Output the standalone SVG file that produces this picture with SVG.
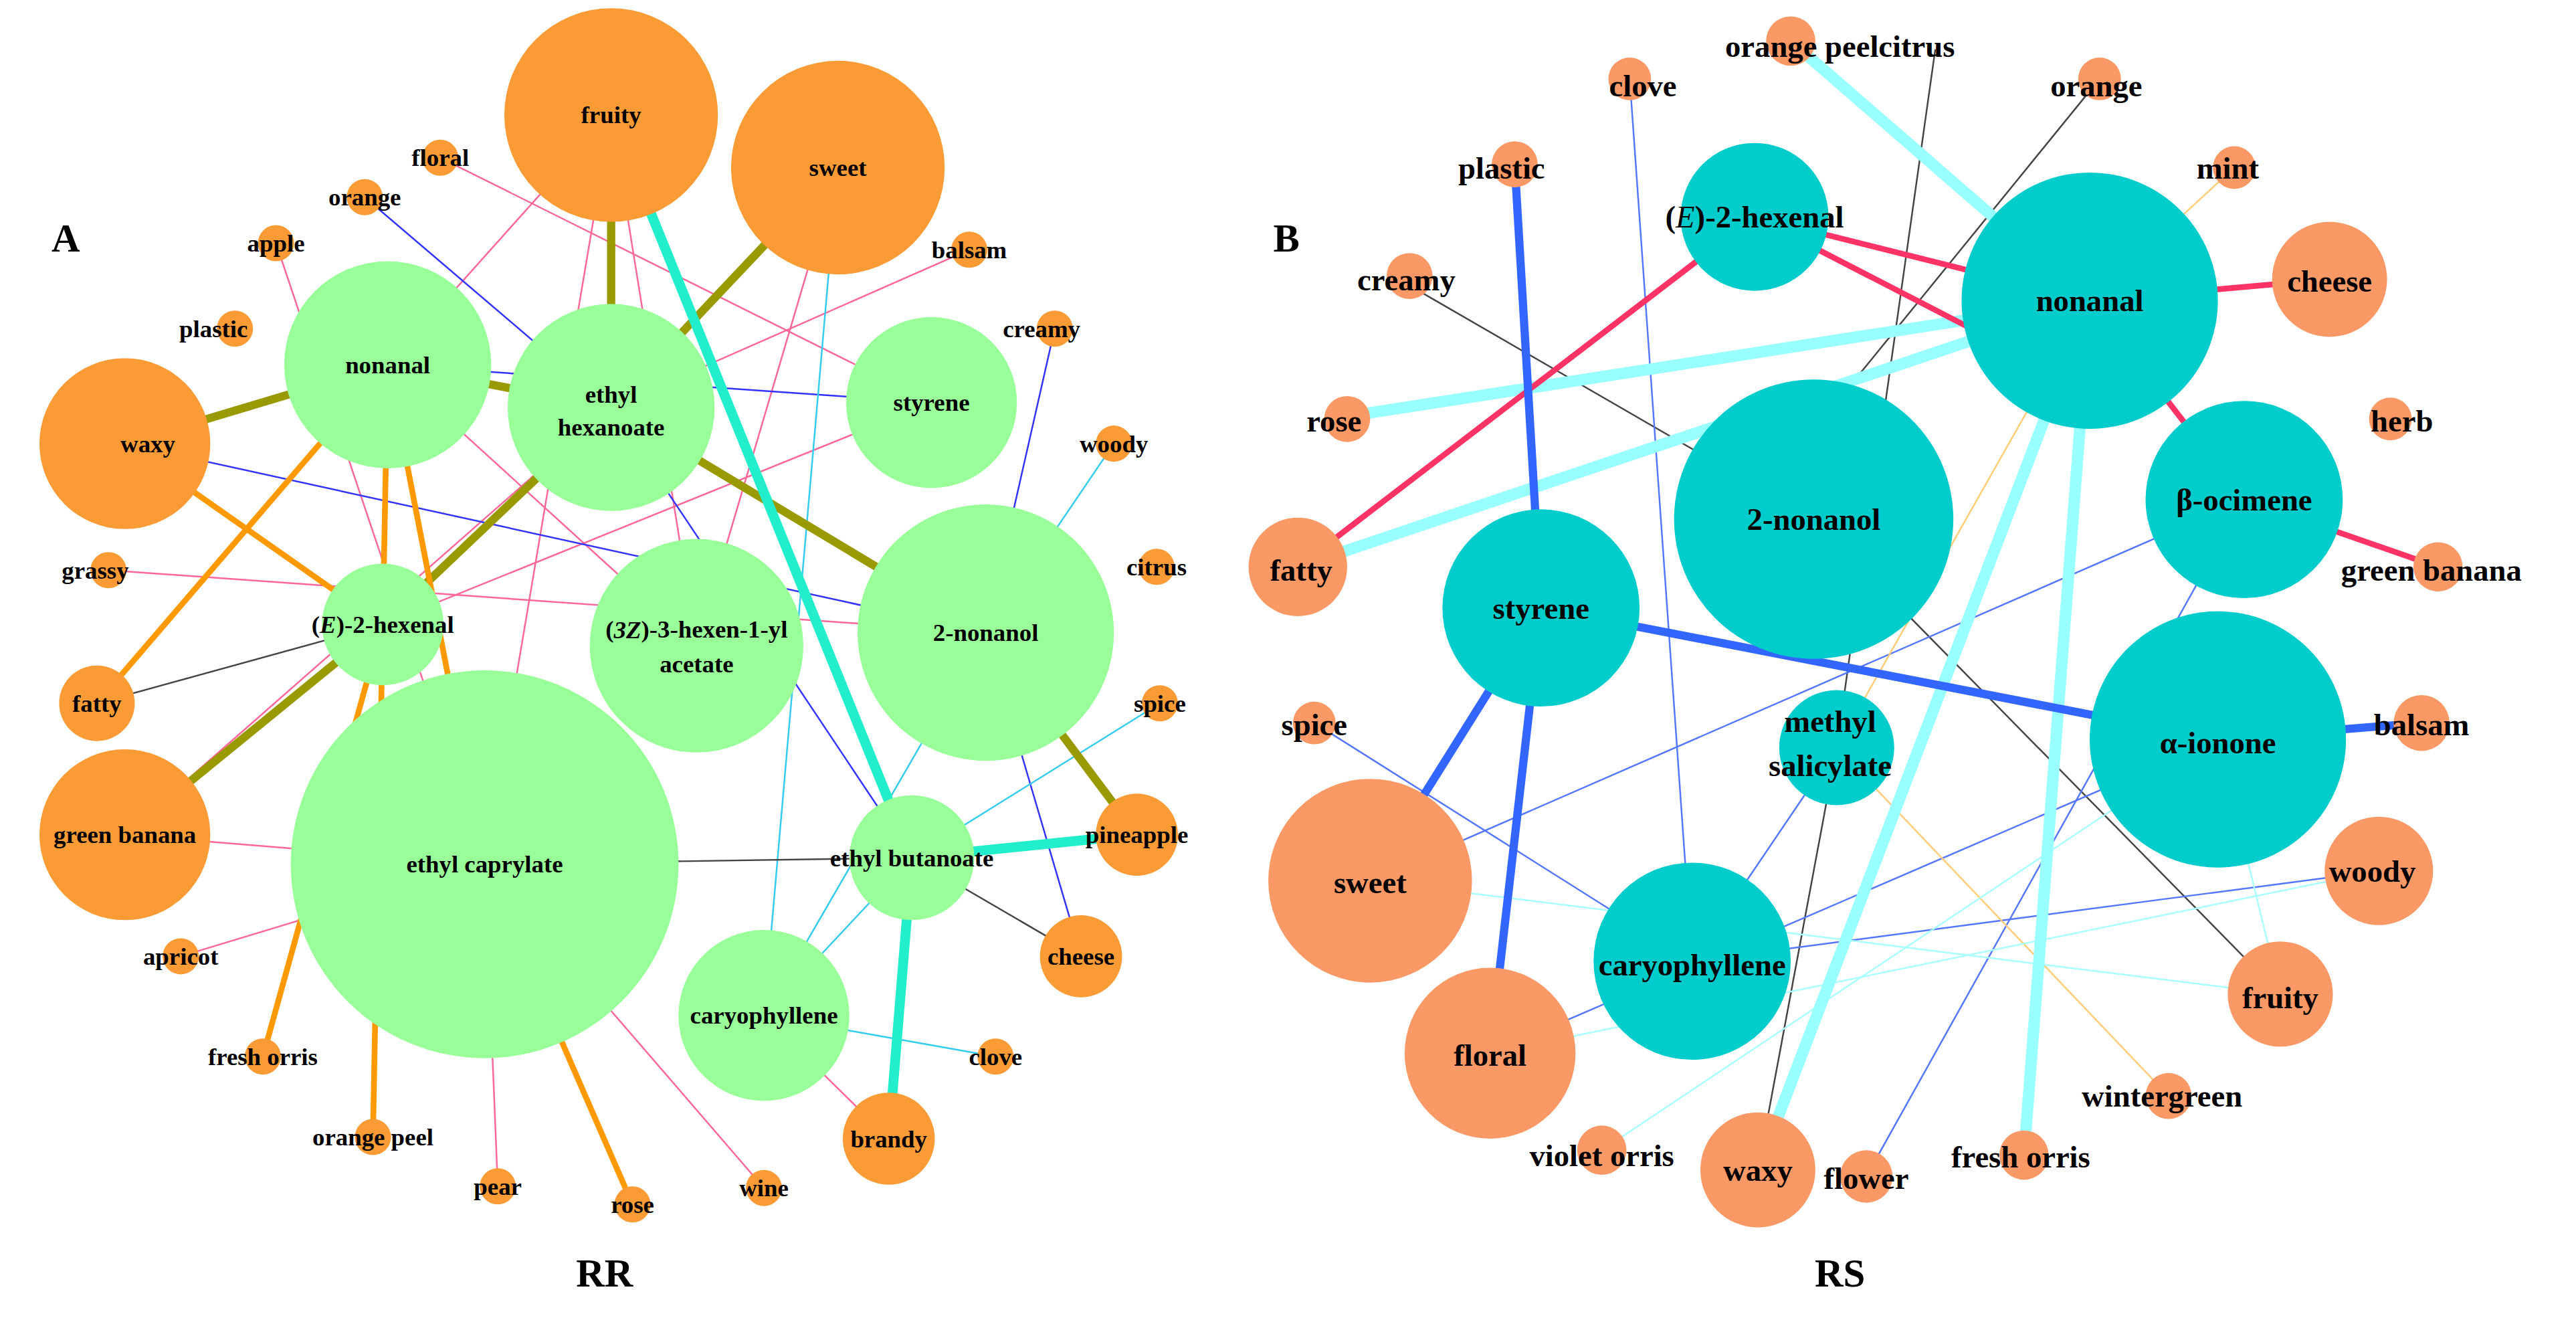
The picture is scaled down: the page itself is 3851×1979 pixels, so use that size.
<svg xmlns="http://www.w3.org/2000/svg" width="3851" height="1979" viewBox="0 0 3851 1979">
<style>
text{font-family:"Liberation Serif","Times New Roman",serif;font-weight:bold;fill:#000;text-anchor:middle;dominant-baseline:central}
.a{font-size:15px}.b{font-size:19px}.big{font-size:24px}
.og{fill:#FA9B35}.gr{fill:#99FF99}.cy{fill:#00CCCC}.sa{fill:#FA9966}
line{fill:none}
.ol{stroke:#999900;stroke-width:5}.tq{stroke:#22EECC;stroke-width:6}.or{stroke:#FF9900;stroke-width:3.5}
.pk{stroke:#FF6699;stroke-width:1}.bl{stroke:#3333FF;stroke-width:1}.lc{stroke:#33CCEE;stroke-width:1}.bk{stroke:#444;stroke-width:1}
.lcb{stroke:#99FFFF;stroke-width:7}.rd{stroke:#FF3366;stroke-width:3.5}.bb{stroke:#3366FF;stroke-width:5}
.tb{stroke:#5577FF;stroke-width:1}.ty{stroke:#FFCC77;stroke-width:1}.tc{stroke:#AAFFFF;stroke-width:1}
</style>
<rect width="3851" height="1979" fill="#fff"/>
<g transform="scale(2.456)">
<g id="connectors">
<line class="pk" x1="268" y1="96" x2="567" y2="245"/>
<line class="pk" x1="372" y1="70" x2="236" y2="222"/>
<line class="pk" x1="66" y1="347" x2="600" y2="385"/>
<line class="pk" x1="76" y1="508" x2="295" y2="526"/>
<line class="pk" x1="110" y1="582" x2="295" y2="526"/>
<line class="pk" x1="303" y1="722" x2="295" y2="526"/>
<line class="pk" x1="465" y1="723" x2="295" y2="526"/>
<line class="pk" x1="541" y1="693" x2="465" y2="618"/>
<line class="pk" x1="372" y1="70" x2="424" y2="393"/>
<line class="pk" x1="510" y1="102" x2="424" y2="393"/>
<line class="pk" x1="590" y1="152" x2="372" y2="248"/>
<line class="pk" x1="236" y1="222" x2="424" y2="393"/>
<line class="pk" x1="76" y1="508" x2="372" y2="248"/>
<line class="pk" x1="168" y1="148" x2="295" y2="526"/>
<line class="pk" x1="567" y1="245" x2="233" y2="380"/>
<line class="pk" x1="372" y1="70" x2="295" y2="526"/>
<line class="bl" x1="222" y1="120" x2="372" y2="248"/>
<line class="bl" x1="372" y1="70" x2="555" y2="522"/>
<line class="bl" x1="76" y1="270" x2="600" y2="385"/>
<line class="bl" x1="642" y1="200" x2="600" y2="385"/>
<line class="bl" x1="658" y1="582" x2="600" y2="385"/>
<line class="bl" x1="372" y1="248" x2="555" y2="522"/>
<line class="bl" x1="236" y1="222" x2="567" y2="245"/>
<line class="lc" x1="678" y1="270" x2="600" y2="385"/>
<line class="lc" x1="465" y1="618" x2="555" y2="522"/>
<line class="lc" x1="606" y1="643" x2="465" y2="618"/>
<line class="lc" x1="706" y1="428" x2="555" y2="522"/>
<line class="lc" x1="510" y1="102" x2="465" y2="618"/>
<line class="lc" x1="600" y1="385" x2="465" y2="618"/>
<line class="bk" x1="59" y1="428" x2="233" y2="380"/>
<line class="bk" x1="295" y1="526" x2="555" y2="522"/>
<line class="bk" x1="658" y1="582" x2="555" y2="522"/>
<line class="ol" x1="372" y1="70" x2="372" y2="248"/>
<line class="ol" x1="510" y1="102" x2="372" y2="248"/>
<line class="ol" x1="76" y1="270" x2="236" y2="222"/>
<line class="ol" x1="236" y1="222" x2="372" y2="248"/>
<line class="ol" x1="372" y1="248" x2="233" y2="380"/>
<line class="ol" x1="372" y1="248" x2="600" y2="385"/>
<line class="ol" x1="233" y1="380" x2="76" y2="508"/>
<line class="ol" x1="600" y1="385" x2="692" y2="508"/>
<line class="or" x1="236" y1="222" x2="59" y2="428"/>
<line class="or" x1="76" y1="270" x2="233" y2="380"/>
<line class="or" x1="236" y1="222" x2="233" y2="380"/>
<line class="or" x1="236" y1="222" x2="295" y2="526"/>
<line class="or" x1="233" y1="380" x2="160" y2="643"/>
<line class="or" x1="233" y1="380" x2="227" y2="692"/>
<line class="or" x1="295" y1="526" x2="385" y2="733"/>
<line class="tq" x1="372" y1="70" x2="555" y2="522"/>
<line class="tq" x1="555" y1="522" x2="692" y2="508"/>
<line class="tq" x1="555" y1="522" x2="541" y2="693"/>
<!-- B -->
<line class="bk" x1="1278" y1="48" x2="1130" y2="230"/>
<line class="bk" x1="848" y1="168" x2="1104" y2="316"/>
<line class="bk" x1="1178" y1="30" x2="1118" y2="455"/>
<line class="bk" x1="1104" y1="316" x2="1388" y2="605"/>
<line class="bk" x1="1070" y1="712" x2="1118" y2="455"/>
<line class="bk" x1="1418" y1="170" x2="1272" y2="183"/>
<line class="tb" x1="992" y1="48" x2="1030" y2="585"/>
<line class="tb" x1="834" y1="536" x2="1366" y2="304"/>
<line class="tb" x1="800" y1="440" x2="1030" y2="585"/>
<line class="tb" x1="1030" y1="585" x2="1448" y2="530"/>
<line class="tb" x1="1030" y1="585" x2="1118" y2="455"/>
<line class="tb" x1="907" y1="641" x2="1350" y2="450"/>
<line class="tb" x1="1136" y1="716" x2="1366" y2="304"/>
<line class="ty" x1="1360" y1="102" x2="1272" y2="183"/>
<line class="ty" x1="1118" y1="455" x2="1320" y2="667"/>
<line class="ty" x1="1118" y1="455" x2="1272" y2="183"/>
<line class="tc" x1="975" y1="700" x2="1350" y2="450"/>
<line class="tc" x1="907" y1="641" x2="1448" y2="530"/>
<line class="tc" x1="834" y1="536" x2="1388" y2="605"/>
<line class="tc" x1="1350" y1="450" x2="1388" y2="605"/>
<line class="lcb" x1="1090" y1="25" x2="1272" y2="183"/>
<line class="lcb" x1="810" y1="255" x2="1272" y2="183"/>
<line class="lcb" x1="790" y1="345" x2="1272" y2="183"/>
<line class="lcb" x1="1272" y1="183" x2="1070" y2="712"/>
<line class="lcb" x1="1272" y1="183" x2="1232" y2="703"/>
<line class="rd" x1="790" y1="345" x2="1068" y2="132"/>
<line class="rd" x1="1068" y1="132" x2="1272" y2="183"/>
<line class="rd" x1="1068" y1="132" x2="1200" y2="200"/>
<line class="rd" x1="1272" y1="183" x2="1418" y2="170"/>
<line class="rd" x1="1366" y1="304" x2="1272" y2="183"/>
<line class="rd" x1="1366" y1="304" x2="1484" y2="345"/>
<line class="bb" x1="922" y1="100" x2="938" y2="370"/>
<line class="bb" x1="938" y1="370" x2="834" y2="536"/>
<line class="bb" x1="938" y1="370" x2="907" y2="641"/>
<line class="bb" x1="938" y1="370" x2="1350" y2="450"/>
<line class="bb" x1="1350" y1="450" x2="1474" y2="440"/>
</g>
<g id="A-nodes">
<g id="a-fruity"><circle class="og" cx="372" cy="70" r="65"/><text class="a" x="372" y="70">fruity</text></g>
<g id="a-sweet"><circle class="og" cx="510" cy="102" r="65"/><text class="a" x="510" y="102">sweet</text></g>
<g id="a-floral"><circle class="og" cx="268" cy="96" r="11"/><text class="a" x="268" y="96">floral</text></g>
<g id="a-orange"><circle class="og" cx="222" cy="120" r="11"/><text class="a" x="222" y="120">orange</text></g>
<g id="a-apple"><circle class="og" cx="168" cy="148" r="11"/><text class="a" x="168" y="148">apple</text></g>
<g id="a-balsam"><circle class="og" cx="590" cy="152" r="11"/><text class="a" x="590" y="152">balsam</text></g>
<g id="a-plastic"><circle class="og" cx="143" cy="200" r="11"/><text class="a" x="130" y="200">plastic</text></g>
<g id="a-creamy"><circle class="og" cx="642" cy="200" r="11"/><text class="a" x="634" y="200">creamy</text></g>
<g id="a-waxy"><circle class="og" cx="76" cy="270" r="52"/><text class="a" x="90" y="270">waxy</text></g>
<g id="a-woody"><circle class="og" cx="678" cy="270" r="11"/><text class="a" x="678" y="270">woody</text></g>
<g id="a-grassy"><circle class="og" cx="66" cy="347" r="11"/><text class="a" x="58" y="347">grassy</text></g>
<g id="a-citrus"><circle class="og" cx="704" cy="345" r="11"/><text class="a" x="704" y="345">citrus</text></g>
<g id="a-fatty"><circle class="og" cx="59" cy="428" r="23"/><text class="a" x="59" y="428">fatty</text></g>
<g id="a-spice"><circle class="og" cx="706" cy="428" r="11"/><text class="a" x="706" y="428">spice</text></g>
<g id="a-greenbanana"><circle class="og" cx="76" cy="508" r="52"/><text class="a" x="76" y="508">green banana</text></g>
<g id="a-pineapple"><circle class="og" cx="692" cy="508" r="25"/><text class="a" x="692" y="508">pineapple</text></g>
<g id="a-apricot"><circle class="og" cx="110" cy="582" r="11"/><text class="a" x="110" y="582">apricot</text></g>
<g id="a-cheese"><circle class="og" cx="658" cy="582" r="25"/><text class="a" x="658" y="582">cheese</text></g>
<g id="a-clove"><circle class="og" cx="606" cy="643" r="11"/><text class="a" x="606" y="643">clove</text></g>
<g id="a-freshorris"><circle class="og" cx="160" cy="643" r="11"/><text class="a" x="160" y="643">fresh orris</text></g>
<g id="a-brandy"><circle class="og" cx="541" cy="693" r="28"/><text class="a" x="541" y="693">brandy</text></g>
<g id="a-orangepeel"><circle class="og" cx="227" cy="692" r="11"/><text class="a" x="227" y="692">orange peel</text></g>
<g id="a-pear"><circle class="og" cx="303" cy="722" r="11"/><text class="a" x="303" y="722">pear</text></g>
<g id="a-rose"><circle class="og" cx="385" cy="733" r="11"/><text class="a" x="385" y="733">rose</text></g>
<g id="a-wine"><circle class="og" cx="465" cy="723" r="11"/><text class="a" x="465" y="723">wine</text></g>
<g id="a-nonanal"><circle class="gr" cx="236" cy="222" r="63"/><text class="a" x="236" y="222">nonanal</text></g>
<g id="a-ethylhexanoate"><circle class="gr" cx="372" cy="248" r="63"/><text class="a" x="372" y="240">ethyl</text><text class="a" x="372" y="260">hexanoate</text></g>
<g id="a-styrene"><circle class="gr" cx="567" cy="245" r="52"/><text class="a" x="567" y="245">styrene</text></g>
<g id="a-2nonanol"><circle class="gr" cx="600" cy="385" r="78"/><text class="a" x="600" y="385">2-nonanol</text></g>
<g id="a-e2hexenal"><circle class="gr" cx="233" cy="380" r="37"/><text class="a" x="233" y="380">(<tspan font-style="italic">E</tspan>)-2-hexenal</text></g>
<g id="a-hexenylacetate"><circle class="gr" cx="424" cy="393" r="65"/><text class="a" x="424" y="383">(<tspan font-style="italic">3Z</tspan>)-3-hexen-1-yl</text><text class="a" x="424" y="404">acetate</text></g>
<g id="a-ethylcaprylate"><circle class="gr" cx="295" cy="526" r="118"/><text class="a" x="295" y="526">ethyl caprylate</text></g>
<g id="a-ethylbutanoate"><circle class="gr" cx="555" cy="522" r="38"/><text class="a" x="555" y="522">ethyl butanoate</text></g>
<g id="a-caryophyllene"><circle class="gr" cx="465" cy="618" r="52"/><text class="a" x="465" y="618">caryophyllene</text></g>
</g>
<g id="B-nodes">
<g id="b-opc"><circle class="sa" cx="1090" cy="25" r="15"/><text class="b" x="1120" y="28">orange peelcitrus</text></g>
<g id="b-clove"><circle class="sa" cx="992" cy="48" r="13"/><text class="b" x="1000" y="52">clove</text></g>
<g id="b-orange"><circle class="sa" cx="1278" cy="48" r="13"/><text class="b" x="1276" y="52">orange</text></g>
<g id="b-plastic"><circle class="sa" cx="922" cy="100" r="14"/><text class="b" x="914" y="102">plastic</text></g>
<g id="b-mint"><circle class="sa" cx="1360" cy="102" r="13"/><text class="b" x="1356" y="102">mint</text></g>
<g id="b-creamy"><circle class="sa" cx="858" cy="168" r="14"/><text class="b" x="856" y="170">creamy</text></g>
<g id="b-rose"><circle class="sa" cx="820" cy="255" r="14"/><text class="b" x="812" y="256">rose</text></g>
<g id="b-herb"><circle class="sa" cx="1455" cy="255" r="13"/><text class="b" x="1462" y="256">herb</text></g>
<g id="b-cheese"><circle class="sa" cx="1418" cy="170" r="35"/><text class="b" x="1418" y="171">cheese</text></g>
<g id="b-fatty"><circle class="sa" cx="790" cy="345" r="30"/><text class="b" x="792" y="347">fatty</text></g>
<g id="b-gb"><circle class="sa" cx="1484" cy="345" r="15"/><text class="b" x="1480" y="347">green banana</text></g>
<g id="b-spice"><circle class="sa" cx="800" cy="440" r="13"/><text class="b" x="800" y="441">spice</text></g>
<g id="b-balsam"><circle class="sa" cx="1474" cy="440" r="17"/><text class="b" x="1474" y="441">balsam</text></g>
<g id="b-sweet"><circle class="sa" cx="834" cy="536" r="62"/><text class="b" x="834" y="537">sweet</text></g>
<g id="b-woody"><circle class="sa" cx="1448" cy="530" r="33"/><text class="b" x="1444" y="530">woody</text></g>
<g id="b-fruity"><circle class="sa" cx="1388" cy="605" r="32"/><text class="b" x="1388" y="607">fruity</text></g>
<g id="b-floral"><circle class="sa" cx="907" cy="641" r="52"/><text class="b" x="907" y="642">floral</text></g>
<g id="b-wintergreen"><circle class="sa" cx="1320" cy="667" r="14"/><text class="b" x="1316" y="667">wintergreen</text></g>
<g id="b-violetorris"><circle class="sa" cx="975" cy="700" r="15"/><text class="b" x="975" y="703">violet orris</text></g>
<g id="b-waxy"><circle class="sa" cx="1070" cy="712" r="35"/><text class="b" x="1070" y="712">waxy</text></g>
<g id="b-flower"><circle class="sa" cx="1136" cy="716" r="16"/><text class="b" x="1136" y="717">flower</text></g>
<g id="b-freshorris"><circle class="sa" cx="1232" cy="703" r="15"/><text class="b" x="1230" y="704">fresh orris</text></g>
<g id="b-e2hexenal"><circle class="cy" cx="1068" cy="132" r="45"/><text class="b" x="1068" y="132">(<tspan font-style="italic" font-weight="normal">E</tspan>)-2-hexenal</text></g>
<g id="b-nonanal"><circle class="cy" cx="1272" cy="183" r="78"/><text class="b" x="1272" y="183">nonanal</text></g>
<g id="b-2nonanol"><circle class="cy" cx="1104" cy="316" r="85"/><text class="b" x="1104" y="316">2-nonanol</text></g>
<g id="b-ocimene"><circle class="cy" cx="1366" cy="304" r="60"/><text class="b" x="1366" y="304">β-ocimene</text></g>
<g id="b-styrene"><circle class="cy" cx="938" cy="370" r="60"/><text class="b" x="938" y="370">styrene</text></g>
<g id="b-ionone"><circle class="cy" cx="1350" cy="450" r="78"/><text class="b" x="1350" y="452">α-ionone</text></g>
<g id="b-ms"><circle class="cy" cx="1118" cy="455" r="35"/><text class="b" x="1114" y="439">methyl</text><text class="b" x="1114" y="466">salicylate</text></g>
<g id="b-caryophyllene"><circle class="cy" cx="1030" cy="585" r="60"/><text class="b" x="1030" y="587">caryophyllene</text></g>
</g>
<text class="big" x="40" y="145">A</text>
<text class="big" x="783" y="145">B</text>
<text class="big" x="368" y="775">RR</text>
<text class="big" x="1120" y="775">RS</text>
</g>
</svg>
